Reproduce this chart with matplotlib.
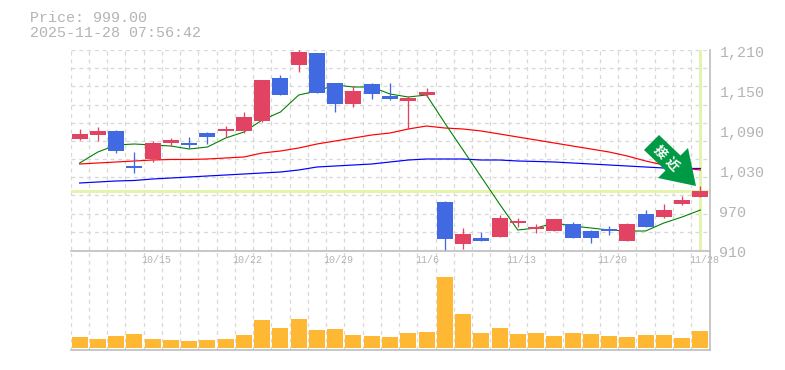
import matplotlib
matplotlib.use("Agg")
import matplotlib.pyplot as plt
import matplotlib.patches as mpatches
import numpy as np

W, H = 785, 370
X0, X1 = 70.5, 709.5

# 日足 (price)
opens = [1076.5, 1082.5, 1088.5, 1036, 1046.5, 1070.5, 1070.5, 1085.5, 1088.5, 1088.5,
         1103.5, 1168, 1187.5, 1205.5, 1160.5, 1129, 1159, 1141, 1133.5, 1142.5,
         982, 919, 928, 929.5, 950.5, 941.5, 938.5, 949, 938.5, 941.5,
         923.5, 964, 959.5, 979, 989.5]
closes = [1084, 1088.5, 1058.5, 1033, 1070.5, 1075, 1067.5, 1079.5, 1091.5, 1109.5,
          1165, 1142.5, 1207, 1145.5, 1129, 1148.5, 1144, 1136.5, 1138, 1147,
          926.5, 934, 923.5, 958, 953.5, 944.5, 956.5, 928, 928, 938.5,
          949, 944.5, 970, 985, 999]
highs = [1091.5, 1094.5, 1090, 1057, 1073.5, 1078, 1079.5, 1087, 1096, 1117,
         1165, 1172.5, 1210, 1205.5, 1160.5, 1156, 1160.5, 1160.5, 1141, 1153,
         983.5, 943, 937, 962.5, 958, 949, 956.5, 952, 940, 946,
         950.5, 970, 979, 991, 1006]
lows = [1075, 1073.5, 1055.5, 1025.5, 1042, 1066, 1063, 1069, 1079.5, 1085.5,
        1102, 1142.5, 1177, 1145.5, 1117, 1124.5, 1136.5, 1135, 1091.5, 1139.5,
        908.5, 911.5, 923.5, 929.5, 944.5, 935.5, 938.5, 928, 920.5, 932.5,
        923.5, 944.5, 958, 977.5, 989.5]

ma_short = [1040.5, 1057, 1067.5, 1069, 1067.5, 1066, 1061.5, 1064.5, 1078, 1087,
            1105, 1117, 1142.5, 1148.5, 1157.5, 1154.5, 1154.5, 1144, 1139.5, 1142.5,
            1100.5, 1060, 1019.5, 979, 940, 943, 950.5, 946, 943, 940,
            938.5, 938.5, 950.5, 959.5, 970]
ma_mid = [1039, 1040.5, 1042, 1043.5, 1045, 1045.8, 1045.8, 1046.5, 1048, 1049.5,
          1055.5, 1058.5, 1063, 1069, 1073.5, 1078, 1082.5, 1085.5, 1091.5, 1096,
          1093, 1091.5, 1088.5, 1084, 1079.5, 1075, 1070.5, 1066, 1061.5, 1057,
          1051, 1043.5, 1037.5, 1033, 1030]
ma_long = [1010.5, 1012, 1013.5, 1014.3, 1016.5, 1018, 1019.5, 1021, 1022.5, 1024,
           1025.5, 1027, 1030, 1034.5, 1036, 1037.5, 1039, 1042, 1045, 1046.5,
           1046.5, 1046.5, 1045, 1045, 1043.5, 1042.8, 1042, 1040.5, 1039, 1037.5,
           1036, 1034.5, 1033, 1032.3, 1032.3]

volume = [11, 9, 12, 14, 9, 8, 7, 8, 9, 13, 28, 20, 29, 18, 19, 13, 12, 11,
          15, 16, 71, 34, 15, 20, 14, 15, 12, 15, 14, 12, 11, 13, 13, 10, 17]

price_ticks = [1210, 1150, 1090, 1030, 970, 910]
date_pos = [4, 9, 14, 19, 24, 29, 34]
date_labels = ["10/15", "10/22", "10/29", "11/6", "11/13", "11/20", "11/28"]
last_price = 999

UP = "#E34362"
DOWN = "#4169E1"
GRID = "#D8D8D8"
AXIS = "#BEBEBE"
TEXT = "#B4B4B4"
HILITE = "#E3F5AC"
FONT = ["Liberation Mono", "DejaVu Sans Mono"]
CJK = ["Noto Sans CJK JP", "DejaVu Sans"]
PX = 0.72  # 1px in pt


def panel(y_top, y_bottom):
    return fig.add_axes([X0 / W, 1 - y_bottom / H, (X1 - X0) / W, (y_bottom - y_top) / H])


def style(ax):
    ax.set_xlim(-0.5, 34.5)
    ax.patch.set_alpha(0)
    for s in ax.spines.values():
        s.set_visible(False)
    ax.tick_params(length=0, labelleft=False, labelbottom=False)
    ax.set_xticks(np.arange(-0.5, 34.6, 1))
    ax.set_yticks([])
    ax.xaxis.grid(True, color=GRID, linewidth=PX * 1.3, linestyle=(0, (3, 3)))
    ax.set_axisbelow(True)


fig = plt.figure(figsize=(W / 100, H / 100), dpi=100, facecolor="white")

ax = panel(50, 250)
style(ax)
ax.set_ylim(910, 1210)
ax.set_yticks(np.linspace(910, 1210, 12))
ax.yaxis.grid(True, color=GRID, linewidth=PX * 1.3, linestyle=(0, (3, 3)))

# ハイライト
ax.axhline(last_price, color=HILITE, linewidth=PX * 3, zorder=1.5)
ax.axvline(34, ymin=0.01, color=HILITE, linewidth=PX * 3, zorder=1.5)

x = np.arange(len(opens))
ax.plot(x, ma_long, color="#0000FF", linewidth=PX * 1.2, zorder=2)
ax.plot(x, ma_mid, color="#FF0000", linewidth=PX * 1.2, zorder=2)
ax.plot(x, ma_short, color="#008000", linewidth=PX * 1.1, zorder=2)

for i, (o, c, h, l) in enumerate(zip(opens, closes, highs, lows)):
    col = UP if c >= o else DOWN
    ax.vlines(i, l, h, color=col, linewidth=PX * 1.3, zorder=3, clip_on=False)
    ax.bar(i, abs(c - o), 0.875, bottom=min(o, c), color=col, linewidth=0, zorder=3)

for p in price_ticks:
    ax.annotate(f"{p:,}", xy=(1, p), xycoords=("axes fraction", "data"),
                xytext=(10, -3), textcoords="offset pixels", ha="left", va="center",
                fontsize=10.8, color=TEXT, family=FONT, annotation_clip=False)
for i, lab in zip(date_pos, date_labels):
    ax.annotate(lab, xy=(i, 0), xycoords=("data", "axes fraction"),
                xytext=(-11.5, -10), textcoords="offset pixels", ha="left", va="center",
                fontsize=7.2, color=TEXT, family=FONT, annotation_clip=False, zorder=8)

axv = panel(250, 350)
style(axv)
axv.set_ylim(-2, 98)
axv.bar(x, volume, 0.875, color="#FFB833", linewidth=0, zorder=3)
ax.set_zorder(axv.get_zorder() + 1)

# 矢印バッジ (pixel座標)
arrow_px = [(659, 135), (680.5, 155.5), (688, 148), (696, 186), (658, 178), (665.5, 170.5), (644, 150)]
pts = [(px, H - py) for px, py in arrow_px]
fig.add_artist(mpatches.Polygon(pts, closed=True, transform=None, facecolor="#009944",
                                edgecolor="none", zorder=6))
for gx, gy, ch in [(660, 152, "接"), (672, 164, "近")]:
    fig.text(gx / W, 1 - gy / H, ch, color="white", fontsize=9.5, fontweight="bold",
             family=CJK, rotation=-46, rotation_mode="anchor", ha="center", va="center", zorder=7)

# 枠線
fig.add_artist(plt.Line2D([X0 / W, X1 / W], [1 - 250.5 / H] * 2, color=AXIS, linewidth=1.2, zorder=5))
fig.add_artist(plt.Line2D([X0 / W, X1 / W], [1 - 350 / H] * 2, color=AXIS, linewidth=1.2, zorder=5))
fig.add_artist(plt.Line2D([(X1 + 0.5) / W] * 2, [1 - 50 / H, 1 - 350 / H], color=AXIS, linewidth=1.2, zorder=5))

fig.text(30 / W, 1 - 18 / H, "Price: 999.00", color=TEXT, fontsize=10.8, family=FONT, va="center")
fig.text(30 / W, 1 - 33 / H, "2025-11-28 07:56:42", color=TEXT, fontsize=10.8, family=FONT, va="center")

fig.savefig("out.png", dpi=100, facecolor="white")
